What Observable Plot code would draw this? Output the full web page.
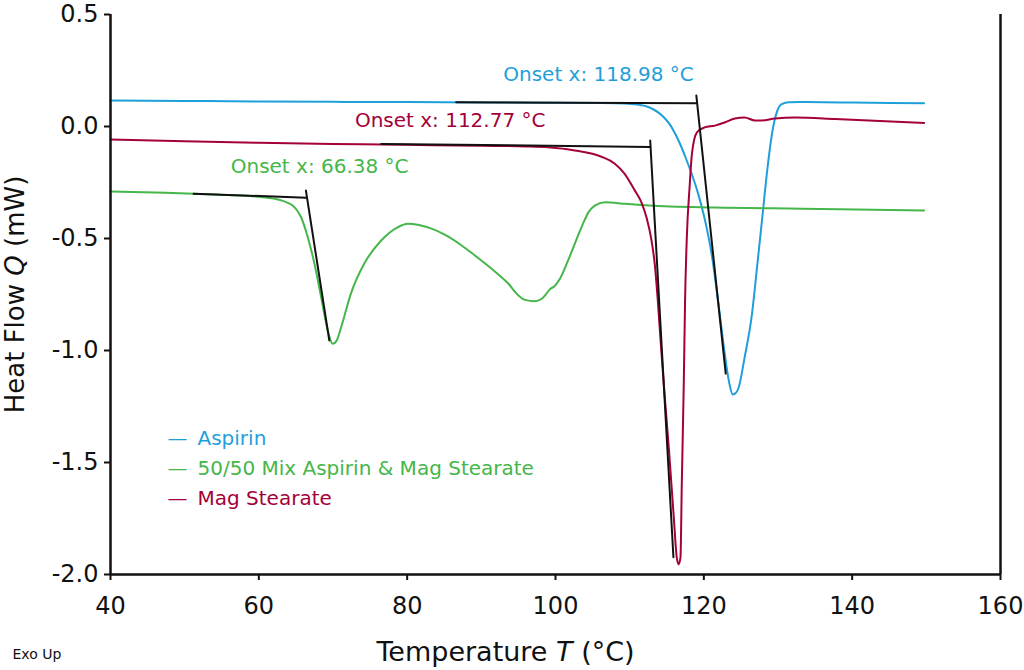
<!DOCTYPE html>
<html><head><meta charset="utf-8">
<script src="https://cdn.jsdelivr.net/npm/d3@7"></script>
<script src="https://cdn.jsdelivr.net/npm/@observablehq/plot@0.6"></script>
<style>
html,body{margin:0;padding:0;background:#fff;}
#chart svg{display:block;}
</style></head><body><div id="chart"></div>
<script>
// Temperature (°C), Heat Flow (mW)
const aspirin = [[40,0.116],[50,0.114],[60,0.112],[70,0.110],[80,0.109],[90,0.107],[100,0.106],[106,0.105],[109.3,0.103],[111,0.098],[112.6,0.086],[113.8,0.064],[114.7,0.038],[115.5,0.005],[116.1,-0.030],[116.8,-0.078],[117.5,-0.135],[118.4,-0.215],[119.1,-0.285],[120.1,-0.410],[121.1,-0.580],[122.0,-0.800],[122.8,-1.010],[123.4,-1.140],[123.9,-1.196],[124.3,-1.190],[124.7,-1.165],[125.5,-1.031],[126.5,-0.835],[127.2,-0.620],[127.9,-0.400],[128.6,-0.180],[129.2,-0.030],[129.9,0.070],[130.5,0.100],[131.5,0.108],[133,0.109],[140,0.107],[149.7,0.104]];
const mix = [[40,-0.290],[46,-0.295],[51.2,-0.300],[56,-0.306],[60,-0.314],[62,-0.322],[63.2,-0.332],[64.8,-0.360],[65.7,-0.405],[66.6,-0.494],[67.5,-0.613],[68.4,-0.762],[69.3,-0.911],[69.95,-0.970],[70.5,-0.955],[71.1,-0.896],[72.4,-0.747],[74.2,-0.613],[76.5,-0.509],[78.7,-0.450],[80.1,-0.434],[81.6,-0.440],[83.2,-0.455],[85,-0.482],[87.3,-0.530],[89.1,-0.575],[91.35,-0.634],[93.6,-0.700],[95.0,-0.754],[95.9,-0.774],[97.2,-0.780],[98.1,-0.770],[98.8,-0.745],[99.2,-0.728],[99.9,-0.712],[100.6,-0.680],[101.7,-0.598],[103.5,-0.450],[104.5,-0.380],[105.3,-0.353],[106.7,-0.338],[109.4,-0.345],[112.6,-0.353],[121.5,-0.362],[133.2,-0.367],[149.7,-0.375]];
const magStearate = [[40,-0.058],[50,-0.066],[60,-0.073],[70,-0.078],[80,-0.082],[90,-0.086],[96,-0.089],[99,-0.093],[102.6,-0.107],[106.2,-0.135],[108,-0.166],[109.3,-0.210],[110.7,-0.286],[111.6,-0.340],[112.3,-0.410],[112.9,-0.500],[113.4,-0.620],[113.8,-0.780],[114.2,-0.970],[114.6,-1.150],[115.3,-1.446],[115.95,-1.745],[116.35,-1.924],[116.6,-1.955],[116.85,-1.924],[117.03,-1.594],[117.3,-1.140],[117.47,-0.777],[117.7,-0.500],[118.1,-0.260],[118.4,-0.120],[119.05,-0.027],[120.1,-0.004],[121.5,0.004],[122.8,0.018],[124.2,0.036],[125.5,0.040],[126.9,0.027],[127.8,0.027],[129.6,0.036],[132.3,0.040],[137.7,0.034],[149.7,0.016]];

const seriesNames = ["Aspirin", "50/50 Mix Aspirin & Mag Stearate", "Mag Stearate"];
const seriesColors = ["#1f9fda", "#45b649", "#a4003a"];
const xTicks = [40, 60, 80, 100, 120, 140, 160];
const yTicks = [-2.0, -1.5, -1.0, -0.5, 0.0, 0.5];
const xTitle = ["Temperature ", "T", " (°C)"];
const yTitle = ["Heat Flow ", "Q", " (mW)"];
const footNote = "Exo Up";

// onset analysis: label text, label position, baseline and tangent segments
const onsetSeries = ["Aspirin", "Mag Stearate", "50/50 Mix Aspirin & Mag Stearate"];
const onsetTexts = ["Onset x: 118.98 °C", "Onset x: 112.77 °C", "Onset x: 66.38 °C"];
const onsetTextX = [105.8, 85.8, 68.2];
const onsetTextY = [0.232, 0.025, -0.181];
const onsetBaselines = [[[86.6, 0.108], [119.05, 0.104]], [[76.5, -0.078], [112.77, -0.091]], [[51.2, -0.300], [66.38, -0.318]]];
const onsetTangents = [[[118.99, 0.138], [122.95, -1.103]], [[112.77, -0.0625], [115.9, -1.923]], [[66.35, -0.286], [69.5, -0.955]]];

const toRows = (pts, name) => pts.map(([x, y]) => ({x, y, series: name}));
const rows = [...toRows(aspirin, seriesNames[0]), ...toRows(mix, seriesNames[1]), ...toRows(magStearate, seriesNames[2])];
const onsetLines = [];
[...onsetBaselines, ...onsetTangents].forEach((seg, i) => seg.forEach(([x, y]) => onsetLines.push({x, y, id: i})));
const onsetLabels = onsetTexts.map((t, i) => ({text: t, x: onsetTextX[i], y: onsetTextY[i], series: onsetSeries[i]}));

const font = "'DejaVu Sans', sans-serif";
const chart = Plot.plot({
  width: 1024,
  height: 670,
  marginLeft: 110,
  marginRight: 24,
  marginTop: 14,
  marginBottom: 96,
  x: {domain: [40, 160]},
  y: {domain: [-2, 0.5]},
  color: {domain: seriesNames, range: seriesColors},
  style: {fontFamily: font, fontSize: "24px", color: "#111", background: "#fff", overflow: "visible"},
  marks: [
    Plot.line(rows, {x: "x", y: "y", z: "series", stroke: "series", strokeWidth: 2, curve: "monotone-x"}),
    Plot.line(onsetLines, {x: "x", y: "y", z: "id", stroke: "#111", strokeWidth: 2}),
    Plot.text(onsetLabels, {x: "x", y: "y", text: "text", fill: "series", fontSize: 20}),
    ...seriesNames.map((n, i) => Plot.text([n], {frameAnchor: "top-left", lineAnchor: "middle", dx: 57, dy: 424 + i * 30, text: d => "—\u2002" + d, fill: seriesColors[i], textAnchor: "start", fontSize: 20})),
    Plot.ruleX([40], {stroke: "#111", strokeWidth: 2.5}),
    Plot.ruleX([160], {stroke: "#111", strokeWidth: 2.5}),
    Plot.ruleY([-2], {stroke: "#111", strokeWidth: 2.5}),
    Plot.axisX(xTicks, {tickSize: 6, tickPadding: 16, label: null, strokeWidth: 2, fontSize: 24, tickFormat: d => String(d)}),
    Plot.axisY(yTicks, {tickSize: 6, tickPadding: 6, label: null, strokeWidth: 2, fontSize: 24, tickFormat: d => d.toFixed(1)}),
    Plot.text([xTitle.join("")], {frameAnchor: "bottom", lineAnchor: "middle", dx: -50, dy: 78, fontSize: 27}),
    Plot.text([yTitle.join("")], {frameAnchor: "left", lineAnchor: "middle", textAnchor: "middle", dx: -95, rotate: -90, fontSize: 26}),
    Plot.text([footNote], {frameAnchor: "bottom-left", lineAnchor: "middle", dx: -98, dy: 80, textAnchor: "start", fontSize: 14})
  ]
});

// italicize the variable symbol in axis titles
chart.querySelectorAll("text").forEach(t => {
  [xTitle, yTitle].forEach(parts => {
    if (t.textContent === parts.join("")) {
      t.textContent = "";
      parts.forEach((p, i) => {
        const ts = document.createElementNS("http://www.w3.org/2000/svg", "tspan");
        ts.textContent = p;
        if (i === 1) ts.setAttribute("font-style", "italic");
        t.appendChild(ts);
      });
    }
  });
});
document.getElementById("chart").appendChild(chart);
</script>
</body></html>
